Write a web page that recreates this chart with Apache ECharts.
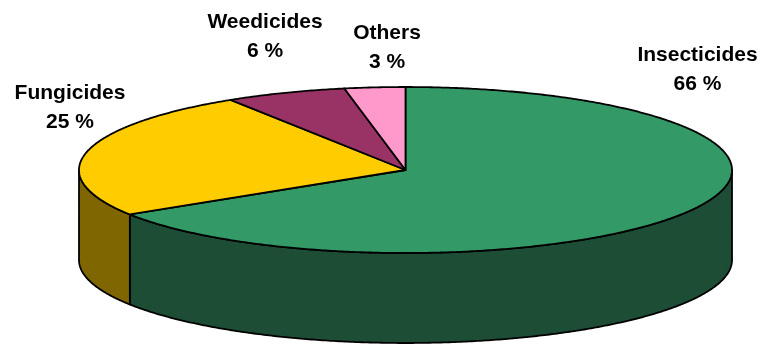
<!DOCTYPE html>
<html>
<head>
<meta charset="utf-8">
<script src="https://cdn.jsdelivr.net/npm/echarts@6/dist/echarts.min.js"></script>
<style>
  html, body { margin: 0; padding: 0; background: #ffffff; }
  #chart { width: 761px; height: 345px; }
</style>
</head>
<body>
<div id="chart"></div>
<script>
// Pesticide consumption by type (share of total, %)
const categories = ['Insecticides', 'Fungicides', 'Weedicides', 'Others'];
const shares = [66, 25, 6, 3];

// Face colours for the top of each slice and its outer wall
const topColors = ['#339966', '#ffcc00', '#993366', '#ff99cc'];
const sideColors = ['#1e4d36', '#806600', '#4d1a33', '#804d66'];

// Disc layout in pixels: centre, radii of the top ellipse, wall height
const disc = { cx: 405.5, cy: 170, rx: 326.5, ry: 83, depth: 90 };
// Centre of each two-line label block
const labelAnchors = [[697.5, 70], [70, 107.5], [265, 36.5], [387, 48]];

const total = shares.reduce((a, b) => a + b, 0);
let running = 0;
const sliceData = shares.map((v, i) => {
  const item = { name: categories[i], value: [running, v] };
  running += v;
  return item;
});

const DEG = Math.PI / 180;
// angle t runs clockwise from 12 o'clock
function ellipsePoint(t, dy) {
  return [disc.cx + disc.rx * Math.sin(t), disc.cy - disc.ry * Math.cos(t) + dy];
}
function arcPoints(a, b, dy) {
  const n = Math.max(2, Math.ceil(Math.abs(b - a) / (0.5 * DEG)));
  const pts = [];
  for (let k = 0; k <= n; k++) pts.push(ellipsePoint(a + (b - a) * k / n, dy));
  return pts;
}

const stroke = { stroke: '#000000', lineWidth: 1.8, lineJoin: 'round' };

function renderSlice(params, api) {
  const i = params.dataIndex;
  const start = api.value(0);
  const value = api.value(1);
  const a = start / total * 2 * Math.PI;
  const b = (start + value) / total * 2 * Math.PI;
  const children = [];

  // outer wall: only the part facing the viewer (between 3 and 9 o'clock)
  const wa = Math.max(a, 90 * DEG);
  const wb = Math.min(b, 270 * DEG);
  if (wb > wa) {
    const topEdge = arcPoints(wa, wb, 0);
    const bottomEdge = arcPoints(wa, wb, disc.depth).reverse();
    children.push({
      type: 'polygon',
      z2: 1,
      shape: { points: topEdge.concat(bottomEdge) },
      style: Object.assign({ fill: sideColors[i] }, stroke)
    });
  }

  // top face
  children.push({
    type: 'polygon',
    z2: 5,
    shape: { points: [[disc.cx, disc.cy]].concat(arcPoints(a, b, 0)) },
    style: Object.assign({ fill: topColors[i] }, stroke)
  });

  // label
  children.push({
    type: 'text',
    z2: 10,
    style: {
      text: categories[i] + '\n' + value + ' %',
      x: labelAnchors[i][0],
      y: labelAnchors[i][1],
      align: 'center',
      verticalAlign: 'middle',
      font: 'bold 21px "Liberation Sans", Arial, sans-serif',
      lineHeight: 29,
      fill: '#000000'
    }
  });

  return { type: 'group', children: children };
}

const chart = echarts.init(document.getElementById('chart'), null, { renderer: 'canvas' });
chart.setOption({
  backgroundColor: '#ffffff',
  animation: false,
  series: [{
    type: 'custom',
    coordinateSystem: 'none',
    renderItem: renderSlice,
    data: sliceData
  }]
});
</script>
</body>
</html>
